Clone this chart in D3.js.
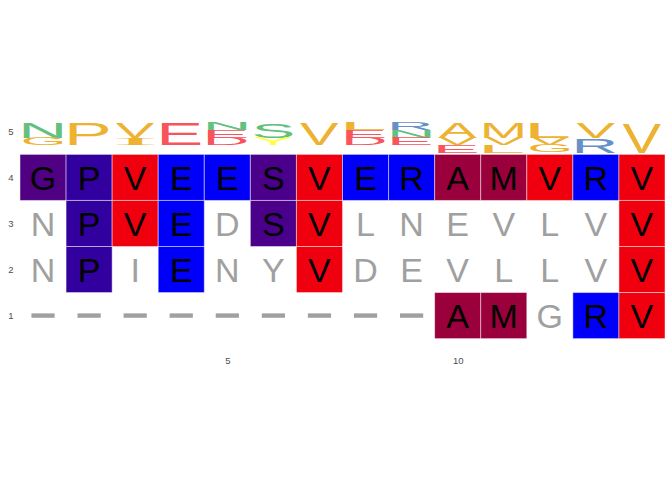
<!DOCTYPE html>
<html>
<head>
<meta charset="utf-8">
<script src="https://cdn.jsdelivr.net/npm/d3@7"></script>
<style>
  html, body { margin: 0; padding: 0; background: #fff; }
  svg { display: block; }
</style>
</head>
<body>
<svg id="chart" width="672" height="480"></svg>
<script>
// ---- data ----
const positions = [1,2,3,4,5,6,7,8,9,10,11,12,13,14];
const seqRow4 = ["G","P","V","E","E","S","V","E","R","A","M","V","R","V"];
const seqRow3 = ["N","P","V","E","D","S","V","L","N","E","V","L","V","V"];
const seqRow2 = ["N","P","I","E","N","Y","V","D","E","V","L","L","V","V"];
const seqRow1 = ["-","-","-","-","-","-","-","-","-","A","M","G","R","V"];
const rowIndex = [4,3,2,1];
const yTicks = [1,2,3,4,5];
const xTicks = [5,10];

// tile colours per residue
const tileColors = {
  G:"#500082", P:"#3300A0", V:"#F0000F", E:"#0000FA", R:"#0000FA",
  S:"#4A008A", A:"#9A003C", M:"#9A003C", D:"#0000FA", N:"#4A008A",
  L:"#F0000F", I:"#F0000F", Y:"#4A008A"
};
// logo colours per residue
const logoColors = {
  A:"#EDB232", V:"#EDB232", L:"#EDB232", I:"#EDB232", M:"#EDB232", P:"#EDB232", G:"#EDB232",
  N:"#62C17F", S:"#62C17F",
  D:"#F8545C", E:"#F8545C",
  R:"#6690C8",
  Y:"#FFFF3C"
};

const seqs = [seqRow4, seqRow3, seqRow2, seqRow1];
const refSeq = seqRow4;

// ---- scales ----
const svg = d3.select("#chart");
const x = d3.scaleLinear().domain([0.5, 14.5]).range([20, 665]);
const y = d3.scaleLinear().domain([0.5, 4.5]).range([338.6, 154.4]);

const logoTop = 5.182, logoHeight = 0.641, logoHalfWidth = 0.42;

// ---- tiles ----
const cells = [];
seqs.forEach((s, r) => s.forEach((ch, i) => {
  cells.push({pos: positions[i], row: rowIndex[r], ch, match: ch !== "-" && ch === refSeq[i]});
}));

const g = svg.append("g");
g.selectAll("rect.tile").data(cells.filter(d => d.match)).join("rect")
  .attr("class","tile")
  .attr("x", d => x(d.pos - 0.5))
  .attr("y", d => y(d.row + 0.5))
  .attr("width", d => x(d.pos + 0.5) - x(d.pos - 0.5))
  .attr("height", d => y(d.row - 0.5) - y(d.row + 0.5))
  .attr("fill", d => tileColors[d.ch])
  .attr("stroke", "#ffffff").attr("stroke-opacity", 0.45).attr("stroke-width", 1);

const fontSize = 34;
g.selectAll("text.res").data(cells.filter(d => d.ch !== "-")).join("text")
  .attr("class","res")
  .attr("x", d => x(d.pos))
  .attr("y", d => y(d.row) + fontSize * 0.716 / 2)
  .attr("text-anchor","middle")
  .attr("font-family","'Liberation Sans', Arial, sans-serif")
  .attr("font-size", fontSize)
  .attr("fill", d => d.match ? "#000000" : "#A0A0A0")
  .text(d => d.ch);

g.selectAll("rect.gap").data(cells.filter(d => d.ch === "-")).join("rect")
  .attr("class","gap")
  .attr("x", d => x(d.pos) - 11.6)
  .attr("y", d => y(d.row) - 2.2)
  .attr("width", 23.2).attr("height", 4.4)
  .attr("fill", "#A0A0A0");

// ---- logo ----
const canvas = document.createElement("canvas");
const ctx = canvas.getContext("2d");
function fontFor(ch) {
  return ch === "I" ? "'Liberation Serif', serif" : "'Liberation Sans', Arial, sans-serif";
}
function inkBox(ch) {
  ctx.font = "100px " + fontFor(ch);
  const m = ctx.measureText(ch);
  return {l: m.actualBoundingBoxLeft, r: m.actualBoundingBoxRight,
          a: m.actualBoundingBoxAscent, d: m.actualBoundingBoxDescent};
}
const logoLetters = [];
positions.forEach((p, i) => {
  const counts = d3.rollups(seqs.map(s => s[i]).filter(c => c !== "-"), v => v.length, c => c);
  counts.sort((a, b) => b[1] - a[1] || d3.descending(a[0], b[0]));
  let top = logoTop;
  counts.forEach(([ch, n]) => {
    const h = n / seqs.length * logoHeight;
    logoLetters.push({pos: p, ch, top, bottom: top - h});
    top -= h;
  });
});
const logoG = svg.append("g");
logoLetters.forEach(d => {
  const b = inkBox(d.ch);
  const bx = x(d.pos - logoHalfWidth), bw = x(d.pos + logoHalfWidth) - bx;
  const by = y(d.top), bh = y(d.bottom) - by;
  const sx = bw / (b.l + b.r), sy = bh / (b.a + b.d);
  logoG.append("text")
    .attr("font-family", fontFor(d.ch))
    .attr("font-size", 100)
    .attr("fill", logoColors[d.ch])
    .attr("transform", `translate(${bx},${by}) scale(${sx},${sy}) translate(${b.l},${b.a})`)
    .text(d.ch);
});

// ---- axes ----
const yAxis = svg.append("g").attr("transform", "translate(20,0)")
  .call(d3.axisLeft(d3.scaleLinear().domain([0.5,5.5]).range([y(0.5), y(5.5)]))
    .tickValues(yTicks).tickSize(0).tickPadding(6.5).tickFormat(d3.format("d")));
const xAxis = svg.append("g").attr("transform", `translate(0,${y(0.5)})`)
  .call(d3.axisBottom(x).tickValues(xTicks).tickSize(0).tickPadding(18.5).tickFormat(d3.format("d")));
[yAxis, xAxis].forEach(a => {
  a.select(".domain").remove();
  a.selectAll("text").attr("font-family","'Liberation Sans', Arial, sans-serif")
    .attr("font-size", 9.5).attr("fill", "#4D4D4D");
});
</script>
</body>
</html>
